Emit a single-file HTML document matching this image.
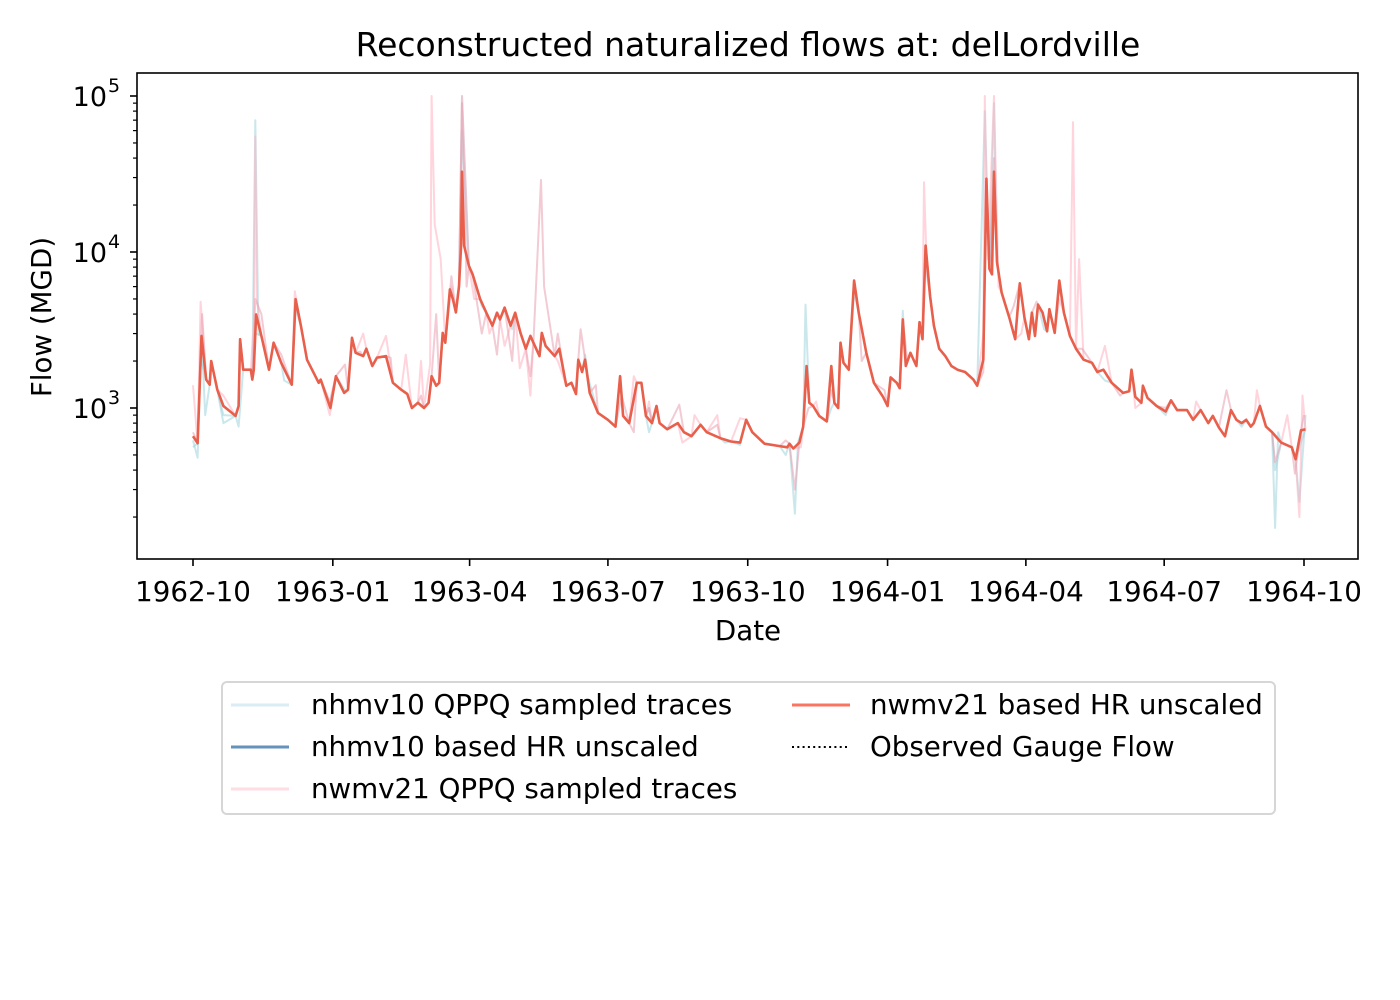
<!DOCTYPE html>
<html><head><meta charset="utf-8"><style>
html,body{margin:0;padding:0;background:#fff;}
svg{display:block;font-family:"DejaVu Sans","Liberation Sans",sans-serif;}
</style></head><body>
<svg id="chart" width="1400" height="1000" viewBox="0 0 1400 1000" xmlns="http://www.w3.org/2000/svg">
<rect x="0" y="0" width="1400" height="1000" fill="#fff"/>
<text x="748" y="56" text-anchor="middle" font-size="33" fill="#000">Reconstructed naturalized flows at: delLordville</text>
<defs><clipPath id="plotclip"><rect x="137" y="73" width="1221" height="486"/></clipPath></defs>
<g id="traces" clip-path="url(#plotclip)"></g>
<rect x="137" y="73" width="1221" height="486" fill="none" stroke="#000" stroke-width="1.6"/>
<g id="xaxis"></g>
<g id="yaxis"></g>
<text x="748" y="640" text-anchor="middle" font-size="27.7">Date</text>
<text transform="translate(51,317) rotate(-90)" text-anchor="middle" font-size="27.7">Flow (MGD)</text>
<g>
<rect x="222" y="682" width="1053" height="132" rx="5" fill="#fff" stroke="#d6d6d6" stroke-width="2"/>
<g><line x1="231" y1="705" x2="289" y2="705" stroke="#add8e6" stroke-opacity="0.45" stroke-width="3"/><text x="311" y="714" font-size="27.7">nhmv10 QPPQ sampled traces</text></g>
<g><line x1="231" y1="747" x2="289" y2="747" stroke="#4a7fb0" stroke-opacity="0.85" stroke-width="3"/><text x="311" y="756" font-size="27.7">nhmv10 based HR unscaled</text></g>
<g><line x1="231" y1="789" x2="289" y2="789" stroke="#ffb6c1" stroke-opacity="0.45" stroke-width="3"/><text x="311" y="798" font-size="27.7">nwmv21 QPPQ sampled traces</text></g>
<g><line x1="792" y1="705" x2="850" y2="705" stroke="#fa7460" stroke-width="3"/><text x="870" y="714" font-size="27.7">nwmv21 based HR unscaled</text></g>
<g><line x1="792" y1="747" x2="850" y2="747" stroke="#000" stroke-width="2" stroke-dasharray="2,3.3"/><text x="870" y="756" font-size="27.7">Observed Gauge Flow</text></g>
</g>
</svg>
<script>
// main nwmv21 HR series: [day since 1962-10-01, flow MGD]
const hrDays = [0,3,5.6,8.7,11,12,16,20,28,30,31,33,38,39,40,41.5,45,50,53,58,65,67.5,71,75,82.7,84,90.4,94,99.5,102,104.6,107,112,114,118,121,127,131.5,137,141,144,148,152,155,157,160,162,164.3,166,169,171,173,175,176.4,177,178.4,181.5,184,189,193,197,200,202,205,209,212,215.5,219,222,224,228,229.5,232,238,241,245.6,249,252,253.5,256,258,261,266.5,273,278,281,283,287,292,295,298,302,305,307,312,319,323,328,334,338,347,354,360,364,368,376,386,391,392.5,395,399,401.5,403.7,405.5,408,412,417,420,422,424.5,426,428,431.5,435,438,443,448,454,457,459,463,465,467,469,472,476,478,480,482,485,487.5,491,495,499,503,508,513.5,516,520,522,524,525.7,527,529,532,537,541,544,547,550,552,554,556,559,562,563.5,567,570,573,577,581,586,591.5,595,599,604.5,612,616,617.5,620,624,625,628,634,640,643.5,647.5,654,658,663,668,671,675,679,683,686.5,690,693,696,698,702,706,710,716,723,725.5,729,732];
const hrFlow = [660,595,2900,1520,1410,2000,1310,1030,890,1030,2760,1760,1760,1520,1760,3980,2900,1760,2620,1950,1410,4980,3370,2040,1450,1520,1000,1600,1250,1310,2820,2260,2150,2400,1860,2100,2150,1450,1310,1230,1000,1080,1000,1080,1600,1390,1450,3030,2620,5760,4980,4100,6020,11000,32700,11000,8150,7200,4980,4080,3370,4080,3700,4400,3370,4080,3030,2400,2900,2620,2150,3030,2500,2150,2400,1390,1450,1230,2040,1700,2040,1250,930,840,760,1600,890,800,1450,1450,890,800,1030,800,730,800,700,660,780,700,640,610,600,840,700,590,570,560,590,550,600,760,1860,1080,1030,890,820,1860,1080,1000,2620,1950,1760,6560,4080,2260,1450,1180,1030,1570,1450,1340,3700,1860,2260,1860,3550,2760,11000,5200,3370,2400,2150,1860,1760,1700,1520,1390,2040,29500,7800,7200,32700,8600,5500,3820,2760,6300,3820,2760,4080,2900,4600,4080,3100,4300,3030,6560,4080,2900,2400,2040,1950,1700,1760,1450,1250,1280,1760,1180,1080,1390,1160,1030,950,1120,970,970,840,970,800,890,750,660,970,840,800,840,760,800,1030,760,700,600,560,470,720,730];
// sampled trace deviations: [day, flow]
const pinkA = [[0,1400],[5,4800],[20,1200],[40,3500],[41,55000],[42,5000],[67,5600],[90,900],[112,3000],[127,2900],[140,2200],[150,2000],[156,1900],[157,100000],[159,15000],[163,9000],[170,6000],[177,100000],[185,5000],[195,3000],[205,2500],[215,1800],[222,1200],[240,2000],[290,1600],[300,1100],[322,600],[330,900],[345,900],[360,860],[400,560],[410,1100],[480,3500],[481,28000],[483,7000],[520,3000],[521,100000],[523,9000],[527,100000],[530,6000],[545,3000],[570,5000],[579,68000],[583,9000],[600,2500],[620,1000],[660,1100],[700,1300],[720,900],[728,200],[730,1200]];
const pinkB = [[0,700],[6,4000],[41,5000],[45,4000],[58,2200],[90,1100],[100,1900],[110,2300],[130,2100],[150,1200],[160,4000],[170,7000],[177,90000],[180,6000],[190,3000],[200,2200],[210,2000],[222,1600],[229,29000],[231,6000],[240,3000],[255,3200],[265,1400],[282,1200],[290,700],[300,1000],[320,1050],[345,780],[390,620],[396,300],[405,1000],[420,1300],[440,2000],[455,1300],[470,2000],[520,1700],[527,40000],[540,4500],[555,4800],[585,2400],[610,1200],[640,1000],[680,1300],[712,450],[725,380],[731,900]];
const blueA = [[0,620],[3,480],[8,900],[20,800],[30,760],[41,70000],[43,3000],[60,1500],[90,1050],[150,1050],[177,100000],[190,4500],[260,1550],[275,800],[300,1000],[350,600],[396,210],[398,600],[403,4600],[420,1000],[435,5500],[482,9000],[521,80000],[527,90000],[560,3200],[600,1500],[700,900],[712,170],[714,700],[728,250],[732,900]];
const blueB = [[0,560],[5,2100],[20,900],[41,3000],[67,4500],[100,1300],[177,60000],[210,3200],[258,2200],[300,700],[360,580],[390,500],[420,1700],[467,4200],[527,30000],[570,6000],[640,900],[690,760],[712,400],[729,600]];

const X0=193, PXDAY=1111/731, Y3=408, DEC=156;
function xScale(d){return X0+d*PXDAY;}
function yScale(v){return Y3-(Math.log10(v)-3)*DEC;}
const NS='http://www.w3.org/2000/svg';
const g=document.getElementById('traces');
function mergeTrace(dev){
  const pts=hrDays.map((d,i)=>[d,hrFlow[i]]).filter(p=>!dev.some(q=>Math.abs(q[0]-p[0])<1.5));
  return pts.concat(dev).sort((a,b)=>a[0]-b[0]);
}
function drawLine(pts,color,op,w,name){
  const p=document.createElementNS(NS,'polyline');
  p.setAttribute('points',pts.map(q=>xScale(q[0]).toFixed(1)+','+yScale(q[1]).toFixed(1)).join(' '));
  p.setAttribute('fill','none');p.setAttribute('stroke',color);p.setAttribute('stroke-opacity',op);
  p.setAttribute('stroke-width',w);p.setAttribute('stroke-linejoin','round');
  
  
  g.appendChild(p);
}
drawLine(mergeTrace(blueA),'#9fd3dc',0.55,2,'nhmv10-trace-1');
drawLine(mergeTrace(blueB),'#9fd3dc',0.55,2,'nhmv10-trace-2');
drawLine(mergeTrace(pinkA),'#ffb0bf',0.55,2,'nwmv21-trace-1');
drawLine(mergeTrace(pinkB),'#e8a0b0',0.55,2,'nwmv21-trace-2');
drawLine(hrDays.map((d,i)=>[d,hrFlow[i]]),'#e8604c',1,2.6,'nwmv21-hr-line');

// axes
const xTickDays=[0,92,182,273,365,457,548,639,731];
const xTickLabels=['1962-10','1963-01','1963-04','1963-07','1963-10','1964-01','1964-04','1964-07','1964-10'];
const xa=document.getElementById('xaxis');
xTickDays.forEach((d,i)=>{
  const x=xScale(d);
  const t=document.createElementNS(NS,'line');
  t.setAttribute('x1',x);t.setAttribute('x2',x);t.setAttribute('y1',559);t.setAttribute('y2',566);
  t.setAttribute('stroke','#000');t.setAttribute('stroke-width','1.6');
  
  
  xa.appendChild(t);
  const l=document.createElementNS(NS,'text');
  l.setAttribute('x',x);l.setAttribute('y',601);l.setAttribute('text-anchor','middle');l.setAttribute('font-size','27.7');
  l.textContent=xTickLabels[i];
  
  
  xa.appendChild(l);
});
const yExps=[3,4,5];
const ya=document.getElementById('yaxis');
yExps.forEach(e=>{
  const y=yScale(Math.pow(10,e));
  const t=document.createElementNS(NS,'line');
  t.setAttribute('x1',130);t.setAttribute('x2',137);t.setAttribute('y1',y);t.setAttribute('y2',y);
  t.setAttribute('stroke','#000');t.setAttribute('stroke-width','1.6');
  
  
  ya.appendChild(t);
  const l=document.createElementNS(NS,'text');
  l.setAttribute('x',107);l.setAttribute('y',y+10);l.setAttribute('text-anchor','end');l.setAttribute('font-size','27');
  l.textContent='10';
  
  
  ya.appendChild(l);
  const s=document.createElementNS(NS,'text');
  s.setAttribute('x',108);s.setAttribute('y',y-4);s.setAttribute('font-size','19');
  s.textContent=String(e);
  
  
  ya.appendChild(s);
});
for(let e=2;e<=4;e++){for(let m=2;m<=9;m++){
  const v=m*Math.pow(10,e);const y=yScale(v);
  if(y<73||y>559) continue;
  const t=document.createElementNS(NS,'line');
  t.setAttribute('x1',133);t.setAttribute('x2',137);t.setAttribute('y1',y);t.setAttribute('y2',y);
  t.setAttribute('stroke','#000');t.setAttribute('stroke-width','1.2');
  
  
  ya.appendChild(t);
}}
</script>
</body></html>
